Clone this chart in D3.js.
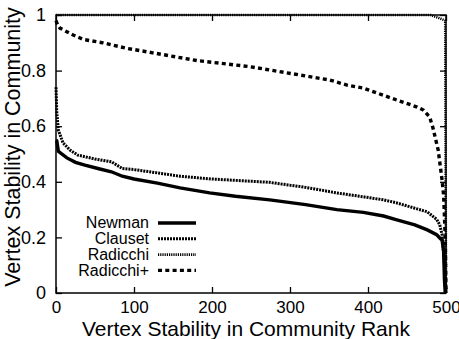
<!DOCTYPE html>
<html>
<head>
<meta charset="utf-8">
<script src="https://cdn.jsdelivr.net/npm/d3@7"></script>
<style>
  html, body { margin: 0; padding: 0; background: #fff; }
  svg { display: block; font-family: "Liberation Sans", Arial, Helvetica, sans-serif; }
</style>
</head>
<body>
<svg id="chart" width="459" height="339"></svg>
<script>
// Vertex stability per community-detection method, sorted by rank
const newmanRank   = [0, 1, 3, 14, 25, 37, 55, 71, 85, 100, 130, 159, 180, 197, 230, 274, 320, 360, 394, 420, 437, 460, 476, 488, 492, 495, 497, 498, 499];
const newmanValue  = [0.55, 0.548, 0.51, 0.486, 0.47, 0.46, 0.447, 0.436, 0.42, 0.41, 0.395, 0.378, 0.368, 0.36, 0.348, 0.335, 0.318, 0.30, 0.29, 0.277, 0.263, 0.245, 0.227, 0.21, 0.198, 0.19, 0.15, 0.05, 0];

const clausetRank  = [0, 1, 3, 9, 18, 28, 50, 71, 85, 100, 130, 159, 200, 250, 274, 320, 360, 394, 420, 437, 460, 476, 488, 492, 495, 498, 500];
const clausetValue = [0.74, 0.65, 0.586, 0.54, 0.514, 0.496, 0.482, 0.472, 0.448, 0.444, 0.432, 0.42, 0.41, 0.402, 0.398, 0.38, 0.36, 0.346, 0.335, 0.324, 0.305, 0.292, 0.265, 0.245, 0.21, 0.1, 0];

const radicchiRank  = [0, 480, 485, 490, 495, 499, 500];
const radicchiValue = [1, 1, 0.995, 0.99, 0.985, 0.98, 0];

const radicchiPRank  = [0, 2, 5, 22, 35, 60, 91, 124, 181, 249, 313, 351, 373, 394, 437, 463, 471, 479, 483, 490, 495, 497, 499, 500];
const radicchiPValue = [0.98, 0.965, 0.953, 0.928, 0.912, 0.90, 0.88, 0.864, 0.836, 0.814, 0.784, 0.766, 0.748, 0.737, 0.694, 0.669, 0.658, 0.633, 0.597, 0.514, 0.406, 0.35, 0.2, 0];

const seriesNames = ["Newman", "Clauset", "Radicchi", "Radicchi+"];
const xTicks = [0, 100, 200, 300, 400, 500];
const yTicks = [0, 0.2, 0.4, 0.6, 0.8, 1];
const xTickLabels = ["0", "100", "200", "300", "400", "500"];
const yTickLabels = ["0", "0.2", "0.4", "0.6", "0.8", "1"];

const series = [
  { name: seriesNames[0], rank: newmanRank,    value: newmanValue,    width: 3.4, dash: null },
  { name: seriesNames[1], rank: clausetRank,   value: clausetValue,   width: 3.0, dash: "2,1" },
  { name: seriesNames[2], rank: radicchiRank,  value: radicchiValue,  width: 2.6, dash: "1.2,1" },
  { name: seriesNames[3], rank: radicchiPRank, value: radicchiPValue, width: 3.4, dash: "4,3.3" }
];

const svg = d3.select("#chart");
const plotLeft = 56, plotRight = 446, plotTop = 15, plotBottom = 293;

const x = d3.scaleLinear().domain([0, 500]).range([plotLeft, plotRight]);
const y = d3.scaleLinear().domain([0, 1]).range([plotBottom, plotTop]);

// Axes with inward ticks, mirrored on top and right
const tickLen = 6;
const xAxis = d3.axisBottom(x).tickValues(xTicks).tickSizeInner(-tickLen).tickSizeOuter(0).tickPadding(8)
  .tickFormat((d, i) => xTickLabels[i]);
const yAxis = d3.axisLeft(y).tickValues(yTicks).tickSizeInner(-tickLen).tickSizeOuter(0).tickPadding(12)
  .tickFormat((d, i) => yTickLabels[i]);

const gx = svg.append("g").attr("transform", `translate(0,${plotBottom})`).call(xAxis);
const gy = svg.append("g").attr("transform", `translate(${plotLeft},0)`).call(yAxis);
svg.append("g").attr("transform", `translate(0,${plotTop})`)
  .call(d3.axisTop(x).tickValues(xTicks).tickSizeInner(-tickLen).tickSizeOuter(0).tickFormat(""));
svg.append("g").attr("transform", `translate(${plotRight},0)`)
  .call(d3.axisRight(y).tickValues(yTicks).tickSizeInner(-tickLen).tickSizeOuter(0).tickFormat(""));

svg.selectAll(".domain").remove();
svg.selectAll(".tick line").attr("stroke", "#000").attr("stroke-width", 1.3);
svg.selectAll(".tick text").attr("fill", "#000")
  .attr("font-family", "'Liberation Sans', Arial, Helvetica, sans-serif");
gx.selectAll(".tick text").attr("font-size", 17).attr("dy", "0.71em");
gy.selectAll(".tick text").attr("font-size", 18).attr("dx", "2");

// Plot frame
svg.append("rect")
  .attr("x", plotLeft).attr("y", plotTop)
  .attr("width", plotRight - plotLeft).attr("height", plotBottom - plotTop)
  .attr("fill", "none").attr("stroke", "#000").attr("stroke-width", 1.5);

// Curves
const line = d3.line().x(d => x(d[0])).y(d => y(d[1]));
series.forEach(s => {
  const pts = s.rank.map((r, i) => [r, s.value[i]]);
  svg.append("path")
    .datum(pts)
    .attr("d", line)
    .attr("fill", "none")
    .attr("stroke", "#000")
    .attr("stroke-width", s.width)
    .attr("stroke-linejoin", "miter")
    .attr("stroke-dasharray", s.dash);
});

// Legend
const legendTextX = 149, legendLineX1 = 158, legendLineX2 = 196;
const legendY0 = 223, legendStep = 15.8;
series.forEach((s, i) => {
  const cy = legendY0 + i * legendStep;
  svg.append("text")
    .attr("x", legendTextX).attr("y", cy)
    .attr("dy", "0.33em")
    .attr("text-anchor", "end")
    .attr("font-size", 16)
    .attr("fill", "#000")
    .text(s.name);
  svg.append("line")
    .attr("x1", legendLineX1).attr("x2", legendLineX2)
    .attr("y1", cy).attr("y2", cy)
    .attr("stroke", "#000")
    .attr("stroke-width", s.width)
    .attr("stroke-dasharray", s.dash);
});

// Axis titles
svg.append("text")
  .attr("x", 246).attr("y", 335.5)
  .attr("text-anchor", "middle")
  .attr("font-size", 21)
  .attr("fill", "#000")
  .text("Vertex Stability in Community Rank");

svg.append("text")
  .attr("transform", `translate(20,147) rotate(-90)`)
  .attr("text-anchor", "middle")
  .attr("font-size", 21.5)
  .attr("fill", "#000")
  .text("Vertex Stability in Community");
</script>
</body>
</html>
